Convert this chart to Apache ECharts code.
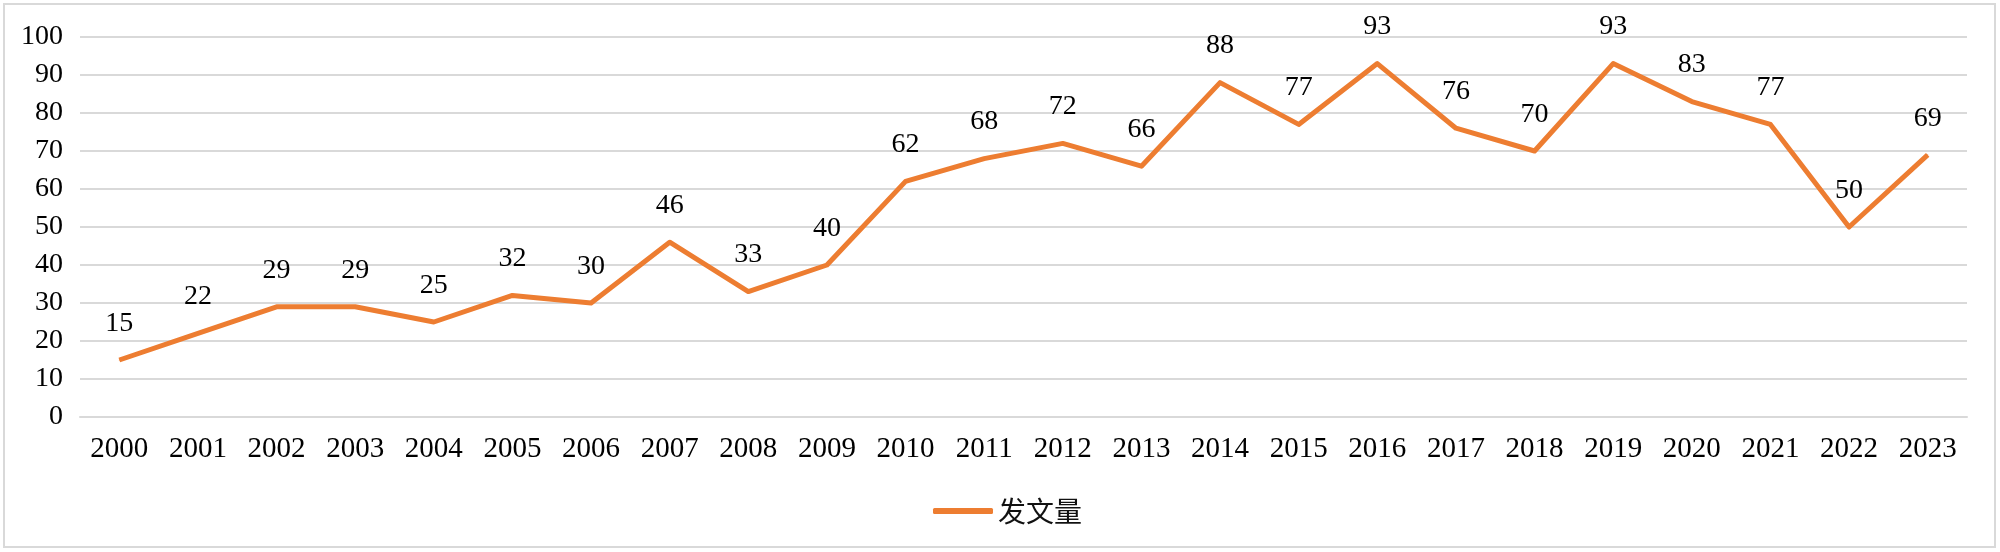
<!DOCTYPE html>
<html>
<head>
<meta charset="utf-8">
<script src="https://cdn.jsdelivr.net/npm/echarts@6/dist/echarts.min.js"></script>
<style>
html,body{margin:0;padding:0;background:#fff;}
#c{width:2000px;height:552px;}
</style>
</head>
<body>
<div id="c"></div>
<script>
const years = ['2000','2001','2002','2003','2004','2005','2006','2007','2008','2009','2010','2011','2012','2013','2014','2015','2016','2017','2018','2019','2020','2021','2022','2023'];
const counts = [15,22,29,29,25,32,30,46,33,40,62,68,72,66,88,77,93,76,70,93,83,77,50,69];
const seriesName = '发文量';
const yTicks = {min:0, max:100, interval:10};

const chart = echarts.init(document.getElementById('c'), null, {renderer:'canvas'});
chart.setOption({
  animation:false,
  backgroundColor:'#fff',
  graphic:[{type:'rect', shape:{x:4,y:4,width:1991,height:543}, style:{fill:'none', stroke:'#d9d9d9', lineWidth:2}, silent:true}],
  grid:{left:80, right:33, top:37, bottom:135, containLabel:false},
  legend:{
    data:[seriesName], left:928, top:492, itemWidth:60, itemHeight:6, itemGap:10,
    icon:'roundRect',
    textStyle:{fontFamily:'"Noto Sans CJK SC"', fontSize:28, color:'#111', padding:[0,0,0,0]}
  },
  xAxis:{
    type:'category', data:years, boundaryGap:true,
    axisLine:{show:true, lineStyle:{color:'#d9d9d9', width:2}},
    axisTick:{show:false},
    axisLabel:{fontFamily:'"Liberation Serif"', fontSize:29, color:'#000', margin:18, interval:0}
  },
  yAxis:{
    type:'value', min:yTicks.min, max:yTicks.max, interval:yTicks.interval,
    axisLine:{show:false}, axisTick:{show:false},
    splitLine:{lineStyle:{color:'#d9d9d9', width:2}},
    axisLabel:{fontFamily:'"Liberation Serif"', fontSize:28, color:'#000', margin:17}
  },
  series:[{
    name:seriesName, type:'line', data:counts,
    symbol:'circle', symbolSize:1, showSymbol:true,
    itemStyle:{color:'#ED7D31'},
    lineStyle:{color:'#ED7D31', width:5, join:'round'},
    label:{show:true, position:'top', distance:22, fontFamily:'"Liberation Serif"', fontSize:28, color:'#000'}
  }]
});
</script>
</body>
</html>
